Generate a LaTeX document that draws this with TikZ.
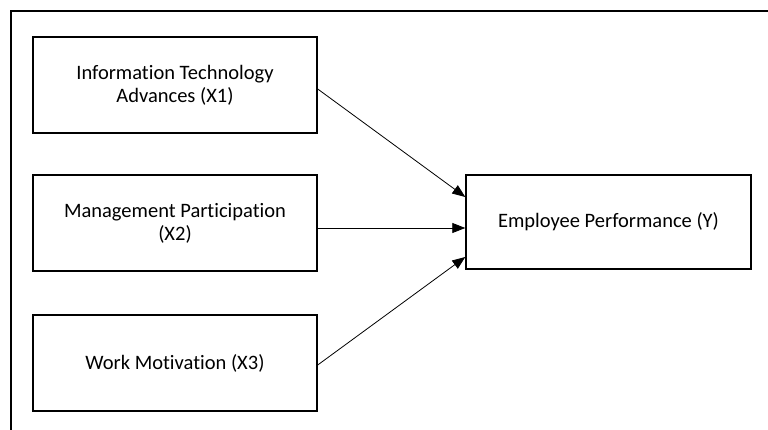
\documentclass[tikz,border=0pt]{standalone}
\usepackage{fontspec}
\setmainfont{Carlito}[Ligatures=NoCommon]
\usetikzlibrary{arrows.meta,positioning}

\begin{document}
\begin{tikzpicture}[x=1pt,y=-1pt]
\tikzstyle{var}=[draw,line width=1.4pt,minimum width=284pt,minimum height=96pt,align=center,font=\fontsize{20.5}{23}\selectfont]
\tikzstyle{link}=[line width=0.8pt,-{Triangle[length=13pt,width=10pt]}]
\useasboundingbox (0,0) rectangle (768,430);
% frame
\draw[line width=1.2pt] (11,430) -- (11,11) -- (768,11);

% independent variables
\node [var] (x1) at (175,85) {Information Technology\\Advances (X1)};
\node [var,node distance=138pt,below of=x1] (x2) {Management Participation\\(X2)};
\node [var,node distance=140pt,below of=x2] (x3) {Work Motivation (X3)};

% dependent variable
\node [var,minimum width=285pt,minimum height=94pt] (y) at (608.5,222) {Employee Performance (Y)};

\draw[link] ([yshift=-4pt]x1.east) -- ([yshift=25pt]y.west);
\draw[link] ([yshift=-5pt]x2.east) -- ([yshift=-6pt]y.west);
\draw[link] ([yshift=-2pt]x3.east) -- ([yshift=-35pt]y.west);
\end{tikzpicture}
\end{document}
